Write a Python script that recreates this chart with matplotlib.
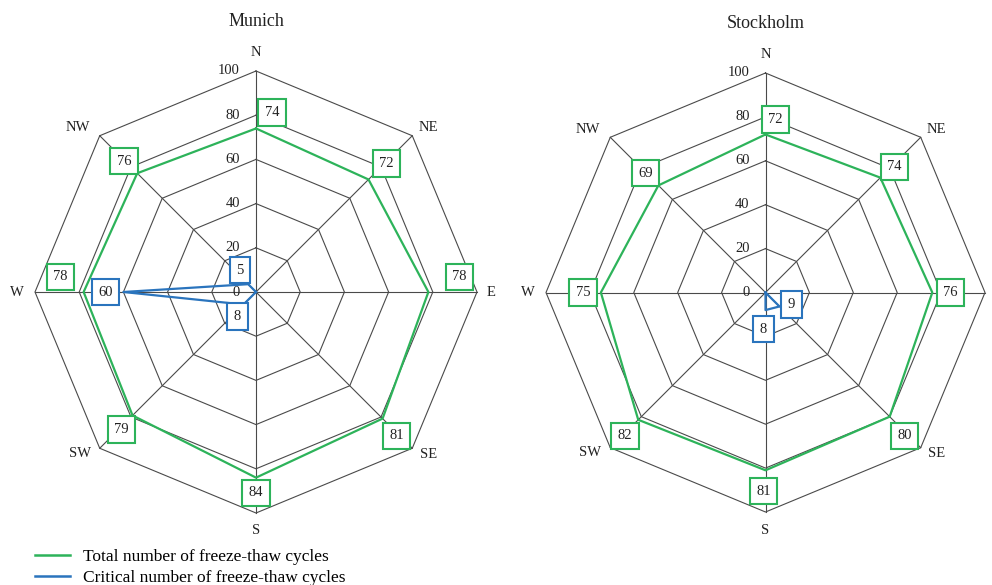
import numpy as np
import matplotlib
matplotlib.use("Agg")
import matplotlib.pyplot as plt
from matplotlib.lines import Line2D

plt.rcParams["font.family"] = ["Liberation Serif", "DejaVu Serif"]

# Wind directions, clockwise from north
directions = ["N", "NE", "E", "SE", "S", "SW", "W", "NW"]
ring_levels = [0, 20, 40, 60, 80, 100]

# Munich
munich_total = [74, 72, 78, 81, 84, 79, 78, 76]
munich_critical = [0, 0, 0, 0, 0, 8, 60, 5]

# Stockholm
stockholm_total = [72, 74, 76, 80, 81, 82, 75, 69]
stockholm_critical = [0, 0, 0, 9, 8, 0, 0, 0]

GREEN = "#2db35a"
BLUE = "#2a74bd"
GRID = "#4a4a4a"

# label box offsets (pixels, x right / y up) per direction
munich_total_off = [(16, 16), (18, 16), (31, 15), (14, -17), (0, -15), (-11, -14), (-23, 15), (-13, 12)]
munich_crit_off = [None, None, None, None, None, (-6, -12), (-18, 0), (-8, 14)]
stockholm_total_off = [(10, 15), (14, 11), (18, 0), (15, -19), (-2, -21), (-13, -16), (-18, 0), (-13, 12)]
stockholm_crit_off = [None, None, None, (12, 2), (-2, -19), None, None, None]

dir_label_off = [(0, 18), (16, 8), (14, 0), (16, -6), (0, -18), (-20, -5), (-18, 0), (-22, 8)]

fig = plt.figure(figsize=(9.92, 5.85), dpi=100)

theta = np.deg2rad(np.arange(len(directions)) * 45.0)
theta_closed = np.append(theta, theta[0])


def radar(rect, title, title_y, total, critical, total_off, crit_off, shown_dirs):
    ax = fig.add_axes(rect, projection="polar")
    ax.set_theta_zero_location("N")
    ax.set_theta_direction(-1)
    ax.set_ylim(0, 100)
    ax.grid(False)
    ax.set_xticks([])
    ax.set_yticks([])
    ax.spines["polar"].set_visible(False)
    ax.patch.set_visible(False)

    # octagonal rings and spokes
    for r in ring_levels[1:]:
        ax.plot(theta_closed, [r] * len(theta_closed), color=GRID, lw=0.8,
                clip_on=False, zorder=1)
    for t in theta:
        ax.plot([t, t], [0, 100], color=GRID, lw=0.8, clip_on=False, zorder=1)

    # radial scale along the north spoke
    for r in ring_levels:
        ax.annotate(str(r), xy=(0, r), xytext=(-16, 0), textcoords="offset pixels",
                    ha="right", va="center", fontsize=10.5, color="#222222",
                    annotation_clip=False)

    # direction names
    for t, name, off in zip(theta, directions, dir_label_off):
        if name not in shown_dirs:
            continue
        ax.annotate(name, xy=(t, 100), xytext=off, textcoords="offset pixels",
                    ha="center", va="center", fontsize=10.5, color="#222222",
                    annotation_clip=False)

    # series
    ax.plot(theta_closed, np.append(total, total[0]), color=GREEN, lw=1.6,
            clip_on=False, zorder=3)
    ax.plot(theta_closed, np.append(critical, critical[0]), color=BLUE, lw=1.6,
            clip_on=False, zorder=3)

    # value boxes
    for values, offs, col in ((total, total_off, GREEN), (critical, crit_off, BLUE)):
        for t, v, off in zip(theta, values, offs):
            if off is None:
                continue
            ax.annotate(str(v), xy=(t, v), xytext=off, textcoords="offset pixels",
                        ha="center", va="center", fontsize=10.5, color="#222222",
                        annotation_clip=False, zorder=5,
                        bbox=dict(boxstyle="square,pad=0.45", fc="white", ec=col, lw=1.5))

    fig.text(rect[0] + rect[2] / 2, title_y, title, ha="center", va="center",
             fontsize=13, color="#222222")
    return ax


radar([35 / 992, 72 / 585, 442 / 992, 442 / 585], "Munich", 1 - 22 / 585,
      munich_total, munich_critical, munich_total_off, munich_crit_off,
      directions)
radar([546 / 992, 73 / 585, 439 / 992, 439 / 585], "Stockholm", 1 - 23 / 585,
      stockholm_total, stockholm_critical, stockholm_total_off, stockholm_crit_off,
      [d for d in directions if d != "E"])

handles = [Line2D([], [], color=GREEN, lw=1.8), Line2D([], [], color=BLUE, lw=1.8)]
labels = ["Total number of freeze-thaw cycles", "Critical number of freeze-thaw cycles"]
fig.legend(handles, labels, loc="upper left", bbox_to_anchor=(35 / 992, 1 - 549 / 585),
           frameon=False, fontsize=12.5, handlelength=2.0, handletextpad=0.75,
           labelspacing=0.25, borderpad=0, borderaxespad=0)

fig.savefig("out.png", dpi=100, facecolor="white")
